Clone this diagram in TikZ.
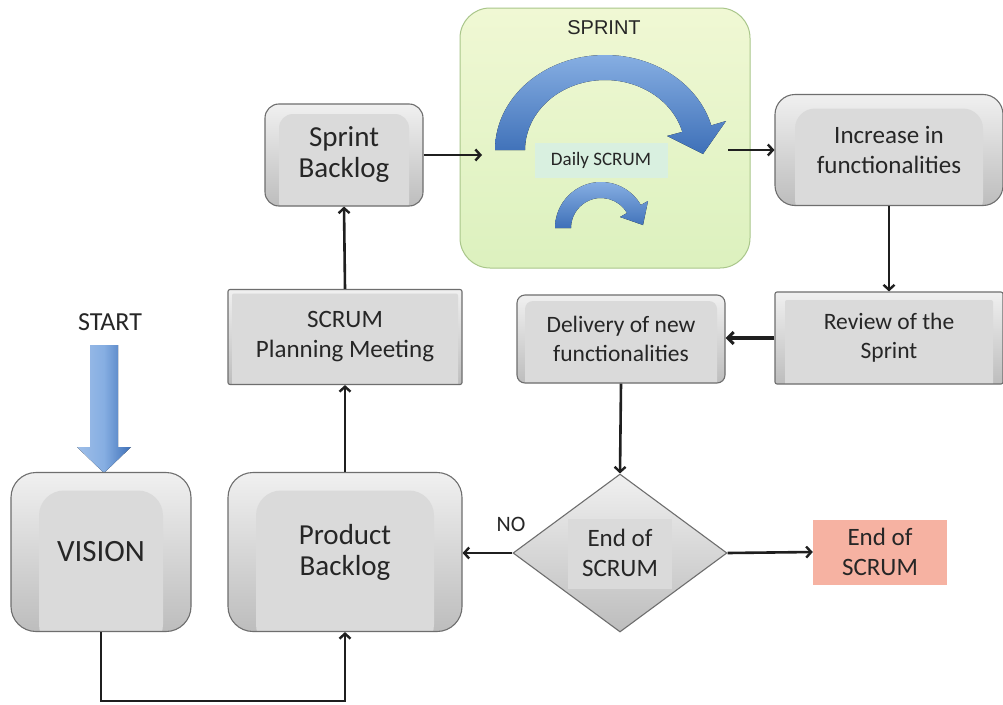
\documentclass[tikz,border=0pt]{standalone}
\usepackage{fontspec}
\setmainfont{Carlito}
\newfontfamily\arialfont{Liberation Sans}
\usetikzlibrary{arrows.meta,shapes.geometric,calc}
\definecolor{txt}{HTML}{262626}
\definecolor{boxline}{HTML}{6E6E6E}
\definecolor{boxtop}{HTML}{F0F0F0}
\definecolor{boxbot}{HTML}{BDBDBD}
\definecolor{boxin}{HTML}{DADADA}
\definecolor{sprintA}{HTML}{F0F8D4}
\definecolor{sprintB}{HTML}{DCF1BE}
\definecolor{sprintline}{HTML}{A9C68A}
\definecolor{dailyfill}{HTML}{D9F0E0}
\definecolor{blueA}{HTML}{86AEE2}
\definecolor{blueB}{HTML}{3E70B8}
\definecolor{pinkfill}{HTML}{F6B2A2}
\tikzset{
  gbox/.style={rectangle, draw=boxline, line width=1.1pt, top color=boxtop, bottom color=boxbot,
    text=txt, align=center, inner sep=0pt,
    path picture={\fill[boxin] ($(path picture bounding box.north west)+(#1)$) rectangle ($(path picture bounding box.south east)+(-#1)$);}},
  gbox/.default={22pt,-14pt},
  arr/.style={-{Straight Barb[length=5pt,width=11pt,line width=2.4pt]}, line width=2.6pt, black!88},
  thickarr/.style={-{Straight Barb[length=6pt,width=12pt,line width=3pt]}, line width=3.6pt, black!88},
  bluearrow/.style={top color=blueA, bottom color=blueB, draw=none},
  big/.style={font=\fontsize{29}{31}\selectfont},
  mid/.style={font=\fontsize{25}{30}\selectfont},
  small/.style={font=\fontsize{23.5}{29}\selectfont}
}
\begin{document}
\begin{tikzpicture}[x=1pt,y=-1pt]
\useasboundingbox (0,0) rectangle (1003,704);
\fill[white] (0,0) rectangle (1003,704);

% START
\node[text=txt, font=\fontsize{26}{28}\selectfont] (start) at (110,322) {START};
\fill[left color=blueA!80, right color=blueB, middle color=blueA] (90,345) -- (118,345) -- (118,447) -- (131,447) -- (104,473) -- (77,447) -- (90,447) -- cycle;

% Sprint box
\node[rectangle, rounded corners=30pt, draw=sprintline, line width=1pt, inner sep=0pt,
  minimum width=290pt, minimum height=260pt, top color=sprintA, bottom color=sprintB] (sprint) at (605,138) {};
\node[font=\arialfont\fontsize{20}{22}\selectfont, text=txt] (sprinttitle) at (604,28) {SPRINT};
\fill[bluearrow] (495,150) arc[start angle=180, end angle=345, x radius=110, y radius=95]
  -- (726,121) -- (703,154) -- (667,136) -- (682.3,131.9)
  arc[start angle=345, end angle=180, x radius=80, y radius=70] -- cycle;
\node[rectangle, fill=dailyfill, minimum width=133pt, minimum height=35pt, inner sep=0pt,
  text=txt, font=\fontsize{19}{21}\selectfont] (daily) at (601,160) {Daily SCRUM};
\fill[bluearrow] (555,228) arc[start angle=180, end angle=330, radius=46]
  -- (648,201) -- (643,225) -- (620,217) -- (627,213)
  arc[start angle=330, end angle=180, radius=30] -- cycle;

% boxes
\node[gbox={28pt,-18pt}, rounded corners=25pt, minimum width=180pt, minimum height=159pt,
  font=\fontsize{31}{33}\selectfont] (vision) at (101,552) {VISION};
\node[gbox={28pt,-18pt}, rounded corners=25pt, minimum width=234pt, minimum height=159pt, big] (pb) at (345,552) {Product\\Backlog};
\node[gbox={4pt,-4pt}, rounded corners=2pt, minimum width=234pt, minimum height=95pt, mid] (plan) at (345,337) {SCRUM\\Planning Meeting};
\node[gbox={14pt,-10pt}, rounded corners=14pt, minimum width=158pt, minimum height=102pt, big] (sb) at (344,155) {Sprint\\Backlog};
\node[gbox={20pt,-14pt}, rounded corners=20pt, minimum width=228pt, minimum height=111pt, mid] (inc) at (889,150) {Increase in\\functionalities};
\node[gbox={10pt,-8pt}, rounded corners=2pt, minimum width=228pt, minimum height=92pt, small] (rev) at (889,338) {Review of the\\Sprint};
\node[gbox={8pt,-6pt}, rounded corners=8pt, minimum width=208pt, minimum height=88pt, small] (del) at (621,339) {Delivery of new\\functionalities};
\node[diamond, draw=boxline, line width=1.1pt, top color=boxtop, bottom color=boxbot, inner sep=0pt,
  minimum width=214pt, minimum height=158pt, text=txt, align=center, mid,
  path picture={\fill[boxin] ($(path picture bounding box.center)+(-52pt,34pt)$) rectangle ($(path picture bounding box.center)+(52pt,-36pt)$);}] (dec) at (620,553) {End of\\SCRUM};
\node[rectangle, fill=pinkfill, minimum width=134pt, minimum height=65pt, inner sep=0pt,
  text=txt, align=center, mid] (endbox) at (880,552) {End of\\SCRUM};
\node[text=txt, font=\fontsize{22}{24}\selectfont] (no) at (511,524) {NO};

% connectors
\coordinate (sprintin) at (482,155);
\coordinate (sprintout) at (728,150);
\draw[arr] (vision.south) -- ++(0,69) -| (pb.south);
\draw[arr] (pb.north) -- (plan.south);
\draw[arr] (plan.north) -- (sb.south);
\draw[arr] (sb.east |- sprintin) -- (sprintin);
\draw[arr, line width=1.5pt] (sprintout) -- (inc.west);
\draw[arr] (inc.south) -- (rev.north);
\draw[thickarr] (rev.west) -- (del.east |- rev.west);
\draw[arr] (del.south) -- (dec.north);
\draw[arr] (dec.west) -- (pb.east |- dec.west);
\draw[arr] (dec.east) -- (endbox.west);
\end{tikzpicture}
\end{document}
